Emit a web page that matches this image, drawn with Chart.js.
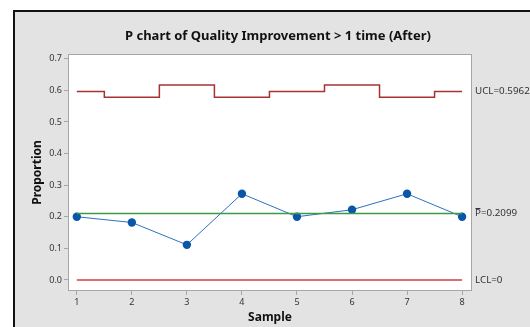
<!DOCTYPE html>
<html>
<head>
<meta charset="utf-8">
<script src="https://cdn.jsdelivr.net/npm/chart.js@4.4.1/dist/chart.umd.min.js"></script>
<style>
  html, body { margin: 0; padding: 0; background: #ffffff; }
  #wrap { width: 530px; height: 327px; position: relative; }
</style>
</head>
<body>
<div id="wrap"><canvas id="c" width="530" height="327"></canvas></div>
<script>
// Sample numbers and proportion defective per sample
const samples = [1, 2, 3, 4, 5, 6, 7, 8];
const proportions = [0.2, 0.1818, 0.1111, 0.2727, 0.2, 0.2222, 0.2727, 0.2];
// Control limits (vary with sample size)
const ucl = [0.5962, 0.5783, 0.6171, 0.5783, 0.5962, 0.6171, 0.5783, 0.5962];
const centerLine = 0.2099;
const lcl = 0;
const yTicks = [0.0, 0.1, 0.2, 0.3, 0.4, 0.5, 0.6, 0.7];

const titleText = 'P chart of Quality Improvement > 1 time (After)';
const labelUCL = 'UCL=0.5962';
const labelCenterSymbol = 'P';
const labelCenterValue = '=0.2099';
const labelLCL = 'LCL=0';

const FONT = '"Noto Sans", "Open Sans", sans-serif';

const pts = (ys) => samples.map((x, i) => ({ x: x, y: Array.isArray(ys) ? ys[i] : ys }));

// Frame, panel background, title, axis titles and limit labels
const decor = {
  id: 'decor',
  beforeDraw(chart) {
    const ctx = chart.ctx;
    const a = chart.chartArea;
    ctx.save();
    ctx.fillStyle = '#ffffff';
    ctx.fillRect(0, 0, chart.width, chart.height);
    ctx.fillStyle = '#e3e3e3';
    ctx.fillRect(13, 10, chart.width - 13, chart.height - 10);
    ctx.fillStyle = '#111111';
    ctx.fillRect(13, 10, 2, chart.height - 10);
    ctx.fillRect(13, 10, chart.width - 13, 2);
    ctx.fillStyle = '#ffffff';
    ctx.fillRect(a.left, a.top, a.right - a.left, a.bottom - a.top);
    ctx.restore();
  },
  afterDraw(chart) {
    const ctx = chart.ctx;
    const a = chart.chartArea;
    const y = chart.scales.y;
    ctx.save();
    // plot border
    ctx.strokeStyle = '#a6a6a6';
    ctx.lineWidth = 1;
    ctx.strokeRect(a.left + 0.5, a.top + 0.5, a.right - a.left - 1, a.bottom - a.top - 1);

    // title
    ctx.fillStyle = '#111111';
    ctx.font = 'bold 13px ' + FONT;
    ctx.textAlign = 'center';
    ctx.textBaseline = 'middle';
    ctx.fillText(titleText, 278, 36);

    // axis titles
    ctx.font = 'bold 12px ' + FONT;
    ctx.fillText('Sample', (a.left + a.right) / 2, 318);
    ctx.save();
    ctx.translate(38, (a.top + a.bottom) / 2);
    ctx.rotate(-Math.PI / 2);
    ctx.fillText('Proportion', 0, 0);
    ctx.restore();

    // limit labels to the right of the plot
    ctx.font = '9.8px ' + FONT;
    ctx.fillStyle = '#333333';
    ctx.textAlign = 'left';
    const lx = a.right + 3;
    ctx.fillText(labelUCL, lx, y.getPixelForValue(ucl[ucl.length - 1]));
    ctx.fillText(labelLCL, lx, y.getPixelForValue(lcl));
    const cy = y.getPixelForValue(centerLine);
    ctx.fillText(labelCenterSymbol, lx, cy);
    const pw = ctx.measureText(labelCenterSymbol).width;
    ctx.fillText(labelCenterValue, lx + pw, cy);
    // bar over the P
    ctx.strokeStyle = '#333333';
    ctx.lineWidth = 1;
    ctx.beginPath();
    ctx.moveTo(lx + 0.5, Math.round(cy - 6) + 0.5);
    ctx.lineTo(lx + pw - 0.5, Math.round(cy - 6) + 0.5);
    ctx.stroke();
    ctx.restore();
  }
};

new Chart(document.getElementById('c'), {
  type: 'line',
  data: {
    datasets: [
      {
        label: 'UCL',
        data: pts(ucl),
        borderColor: '#a83232',
        borderWidth: 1.5,
        stepped: 'middle',
        pointRadius: 0,
        fill: false
      },
      {
        label: 'LCL',
        data: pts(lcl),
        borderColor: '#d04040',
        borderWidth: 1.5,
        pointRadius: 0,
        fill: false
      },
      {
        label: 'P-bar',
        data: pts(centerLine),
        borderColor: '#3c9a46',
        borderWidth: 1.5,
        pointRadius: 0,
        fill: false
      },
      {
        label: 'Proportion',
        data: pts(proportions),
        borderColor: '#2d72c0',
        borderWidth: 1,
        pointRadius: 4.2,
        pointBackgroundColor: '#0a56a8',
        pointBorderColor: '#0a56a8',
        pointBorderWidth: 0,
        tension: 0,
        fill: false
      }
    ]
  },
  options: {
    responsive: false,
    animation: false,
    devicePixelRatio: 1,
    layout: { padding: { left: 0, top: 54, right: 58, bottom: 0 } },
    plugins: {
      legend: { display: false },
      title: { display: false },
      tooltip: { enabled: false }
    },
    scales: {
      x: {
        type: 'linear',
        min: 0.84,
        max: 8.18,
        afterFit(s) { s.height = 36; },
        afterBuildTicks(s) { s.ticks = samples.map(v => ({ value: v })); },
        grid: { drawOnChartArea: false, drawTicks: true, tickLength: 4, color: '#a6a6a6' },
        border: { display: false },
        ticks: {
          color: '#333333',
          font: { family: FONT, size: 9 },
          padding: 2,
          maxRotation: 0,
          callback: (v) => String(v)
        }
      },
      y: {
        type: 'linear',
        min: -0.035,
        max: 0.715,
        afterFit(s) { s.width = 68; },
        afterBuildTicks(s) { s.ticks = yTicks.map(v => ({ value: v })); },
        grid: { drawOnChartArea: false, drawTicks: true, tickLength: 4, color: '#a6a6a6' },
        border: { display: false },
        ticks: {
          color: '#333333',
          font: { family: FONT, size: 9 },
          padding: 2,
          callback: (v) => v.toFixed(1)
        }
      }
    }
  },
  plugins: [decor]
});
</script>
</body>
</html>
